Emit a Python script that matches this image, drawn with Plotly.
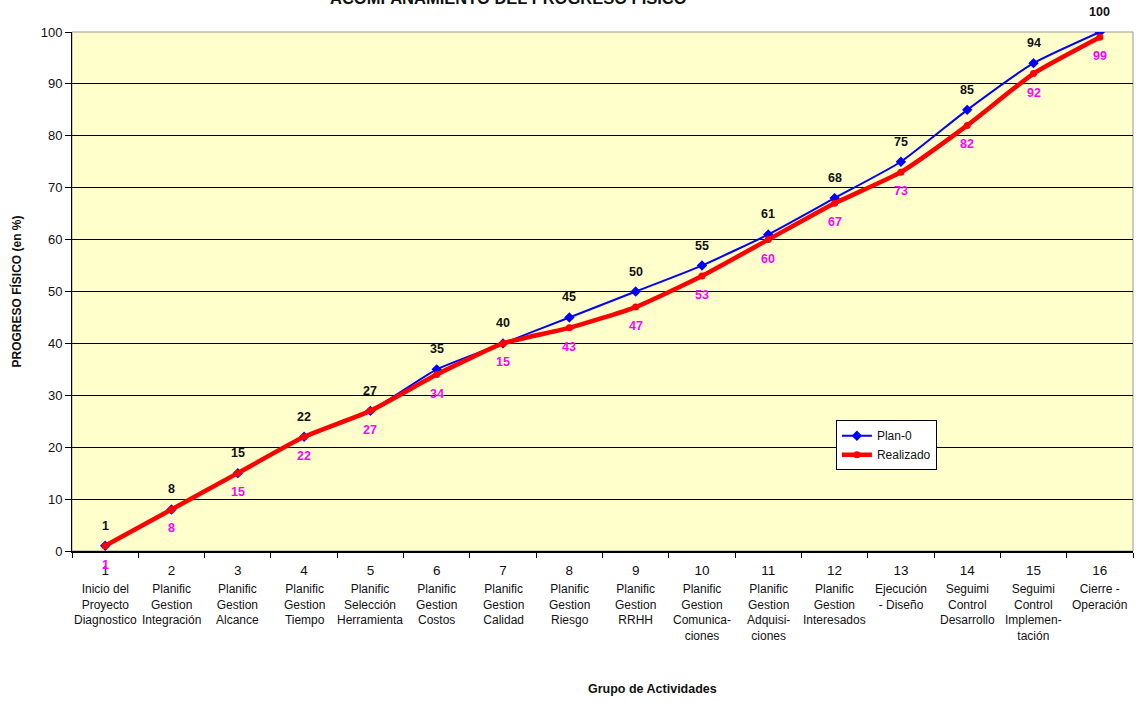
import plotly.graph_objects as go

categories = list(range(1, 17))
cat_texts = [
    "Inicio del<br>Proyecto<br>Diagnostico",
    "Planific<br>Gestion<br>Integración",
    "Planific<br>Gestion<br>Alcance",
    "Planific<br>Gestion<br>Tiempo",
    "Planific<br>Selección<br>Herramienta",
    "Planific<br>Gestion<br>Costos",
    "Planific<br>Gestion<br>Calidad",
    "Planific<br>Gestion<br>Riesgo",
    "Planific<br>Gestion<br>RRHH",
    "Planific<br>Gestion<br>Comunica-<br>ciones",
    "Planific<br>Gestion<br>Adquisi-<br>ciones",
    "Planific<br>Gestion<br>Interesados",
    "Ejecución<br>- Diseño",
    "Seguimi<br>Control<br>Desarrollo",
    "Seguimi<br>Control<br>Implemen-<br>tación",
    "Cierre -<br>Operación",
]
plan = [1, 8, 15, 22, 27, 35, 40, 45, 50, 55, 61, 68, 75, 85, 94, 100]
realizado = [1, 8, 15, 22, 27, 34, 40, 43, 47, 53, 60, 67, 73, 82, 92, 99]
realizado_labels = ["1", "8", "15", "22", "27", "34", "15", "43", "47", "53", "60", "67", "73", "82", "92", "99"]

FONT = "Arial, Liberation Sans, sans-serif"

fig = go.Figure()
fig.add_trace(go.Scatter(
    x=categories, y=plan, name="Plan-0", mode="lines+markers",
    line=dict(color="#0000FF", width=2, shape="spline", smoothing=0.5),
    marker=dict(symbol="diamond", size=8, color="#0000FF"),
))
fig.add_trace(go.Scatter(
    x=categories, y=realizado, name="Realizado", mode="lines+markers",
    line=dict(color="#FF0000", width=4.5, shape="spline", smoothing=0.5),
    marker=dict(symbol="circle", size=7, color="#FF0000"),
))

annotations = []
for c, v in zip(categories, plan):
    annotations.append(dict(x=c, y=v, xref="x", yref="y", text=f"<b>{v}</b>", showarrow=False,
                            yshift=20, font=dict(family=FONT, size=12.5, color="#111111")))
for c, v, t in zip(categories, realizado, realizado_labels):
    annotations.append(dict(x=c, y=v, xref="x", yref="y", text=f"<b>{t}</b>", showarrow=False,
                            yshift=-19, font=dict(family=FONT, size=12.5, color="#FF00FF")))
for c, t in zip(categories, cat_texts):
    annotations.append(dict(x=c, y=0, xref="x", yref="paper", text=t, showarrow=False,
                            yanchor="top", yshift=-29, align="center",
                            font=dict(family=FONT, size=12, color="#111111")))
annotations.append(dict(x=0.547, y=0, xref="paper", yref="paper", text="<b>Grupo de Actividades</b>",
                        showarrow=False, yanchor="middle", yshift=-138,
                        font=dict(family=FONT, size=12.5, color="#111111")))
annotations.append(dict(x=0.411, y=1, xref="paper", yref="paper",
                        text="<b>ACOMPAÑAMIENTO DEL PROGRESO FÍSICO</b>",
                        showarrow=False, yanchor="bottom", yshift=23,
                        font=dict(family=FONT, size=16.5, color="#111111")))

fig.update_layout(
    width=1143, height=702,
    margin=dict(l=72, r=10, t=32, b=151),
    paper_bgcolor="white", plot_bgcolor="#FFFFCC",
    font=dict(family=FONT, size=12, color="#111111"),
    showlegend=True,
    legend=dict(x=0.72, y=0.252, xanchor="left", yanchor="top",
                bgcolor="white", bordercolor="black", borderwidth=1,
                font=dict(family=FONT, size=12, color="#111111"),
                itemwidth=30, tracegroupgap=0),
    annotations=annotations,
)
fig.update_xaxes(
    range=[0.5, 16.5], tickmode="array", tickvals=categories,
    ticktext=[str(c) for c in categories],
    showgrid=False, zeroline=False,
    showline=True, linecolor="black", linewidth=1.5,
    ticks="", tickfont=dict(family=FONT, size=13.5, color="#111111"),
    ticklabelstandoff=6,
    minor=dict(tickmode="array", tickvals=[c + 0.5 for c in range(0, 17)],
               ticks="outside", ticklen=5, tickcolor="black", tickwidth=1, showgrid=False),
    mirror=False,
)
fig.update_yaxes(
    range=[0, 100], dtick=10, tick0=0,
    showgrid=True, gridcolor="black", gridwidth=1,
    zeroline=False, showline=True, linecolor="black", linewidth=1,
    ticks="outside", ticklen=6, tickcolor="black",
    tickfont=dict(family=FONT, size=13, color="#111111"),
    title=dict(text="<b>PROGRESO FÍSICO (en %)</b>", font=dict(family=FONT, size=12, color="#111111"), standoff=16),
)
# gray top/right frame
fig.add_shape(type="rect", xref="paper", yref="paper", x0=0, y0=0, x1=1, y1=1,
              line=dict(color="#999999", width=1), layer="below")

fig.write_html("out.html")
